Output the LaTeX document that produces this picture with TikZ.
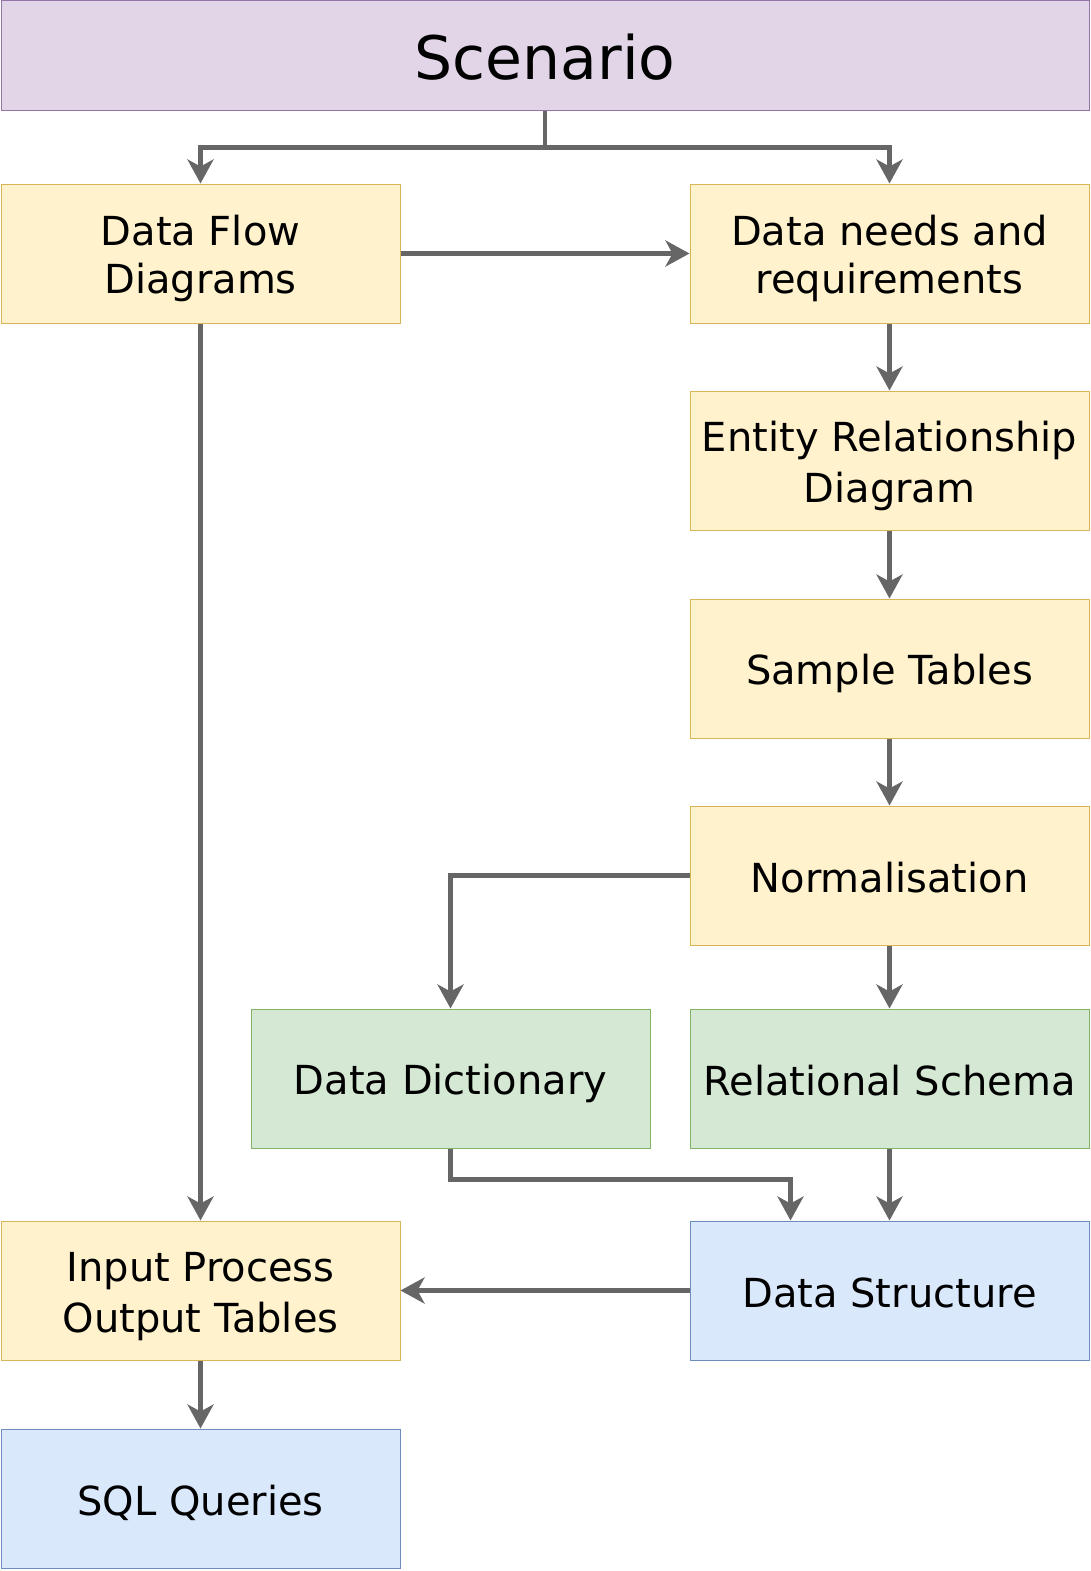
\documentclass[tikz,border=0pt]{standalone}
\usepackage{fontspec}
\setmainfont{DejaVu Sans}
\usetikzlibrary{arrows.meta}
\definecolor{yfill}{HTML}{FFF2CC}\definecolor{ydraw}{HTML}{D6B656}
\definecolor{gfill}{HTML}{D5E8D4}\definecolor{gdraw}{HTML}{82B366}
\definecolor{bfill}{HTML}{DAE8FC}\definecolor{bdraw}{HTML}{6C8EBF}
\definecolor{pfill}{HTML}{E1D5E7}\definecolor{pdraw}{HTML}{9673A6}
\definecolor{edge}{HTML}{666666}
\newcommand{\ms}{\vrule height 41pt depth 7pt width 0pt}
\newcommand{\bs}{\vrule height 60pt depth 12pt width 0pt}
\begin{document}
\begin{tikzpicture}[x=1pt,y=-1pt,
  box/.style={draw, line width=1pt, minimum width=399pt, minimum height=139pt, inner sep=0pt, align=center, font=\fontsize{40pt}{48pt}\selectfont, anchor=north west},
  ybox/.style={box, fill=yfill, draw=ydraw},
  gbox/.style={box, fill=gfill, draw=gdraw},
  bbox/.style={box, fill=bfill, draw=bdraw},
  conn/.style={draw=edge, line width=4.5pt, -{Stealth[length=24pt,width=26pt,inset=7pt]}},
  seg/.style={draw=edge, line width=4.5pt}]
\useasboundingbox (0,0) rectangle (1091,1571);
\node[box, fill=pfill, draw=pdraw, minimum width=1088pt, minimum height=109pt, font=\fontsize{60pt}{72pt}\selectfont] (scen) at (0.5,0.5) {\bs Scenario};
\node[ybox] (dfd) at (0.5,183.5) {\ms Data Flow\\\ms Diagrams};
\node[ybox] (needs) at (689.5,183.5) {\ms Data needs and\\\ms requirements};
\node[ybox] (erd) at (689.5,390.5) {\ms Entity Relationship\\\ms Diagram};
\node[ybox] (sample) at (689.5,598.5) {\ms Sample Tables};
\node[ybox] (norm) at (689.5,805.5) {\ms Normalisation};
\node[gbox] (dd) at (250.5,1008.5) {\ms Data Dictionary};
\node[gbox] (rs) at (689.5,1008.5) {\ms Relational Schema};
\node[ybox] (ipo) at (0.5,1220.5) {\ms Input Process\\\ms Output Tables};
\node[bbox] (ds) at (689.5,1220.5) {\ms Data Structure};
\node[bbox] (sql) at (0.5,1428.5) {\ms SQL Queries};
\coordinate (split) at ([yshift=-37pt]scen.south);
\draw[seg] (scen.south) -- (split);
\draw[conn] (split) -| (dfd.north);
\draw[conn] (split) -| (needs.north);
\draw[conn] (dfd.east) -- (needs.west);
\draw[conn] (dfd.south) -- (ipo.north);
\draw[conn] (needs.south) -- (erd.north);
\draw[conn] (erd.south) -- (sample.north);
\draw[conn] (sample.south) -- (norm.north);
\draw[conn] (norm.south) -- (rs.north);
\draw[conn] (norm.west) -| (dd.north);
\coordinate (ddturn) at ([yshift=-31pt]dd.south);
\coordinate (dstop) at ([xshift=101pt]ds.north west);
\draw[conn] (dd.south) -- (ddturn) -| (dstop);
\draw[conn] (rs.south) -- (ds.north);
\draw[conn] (ds.west) -- (ipo.east);
\draw[conn] (ipo.south) -- (sql.north);
\end{tikzpicture}
\end{document}
